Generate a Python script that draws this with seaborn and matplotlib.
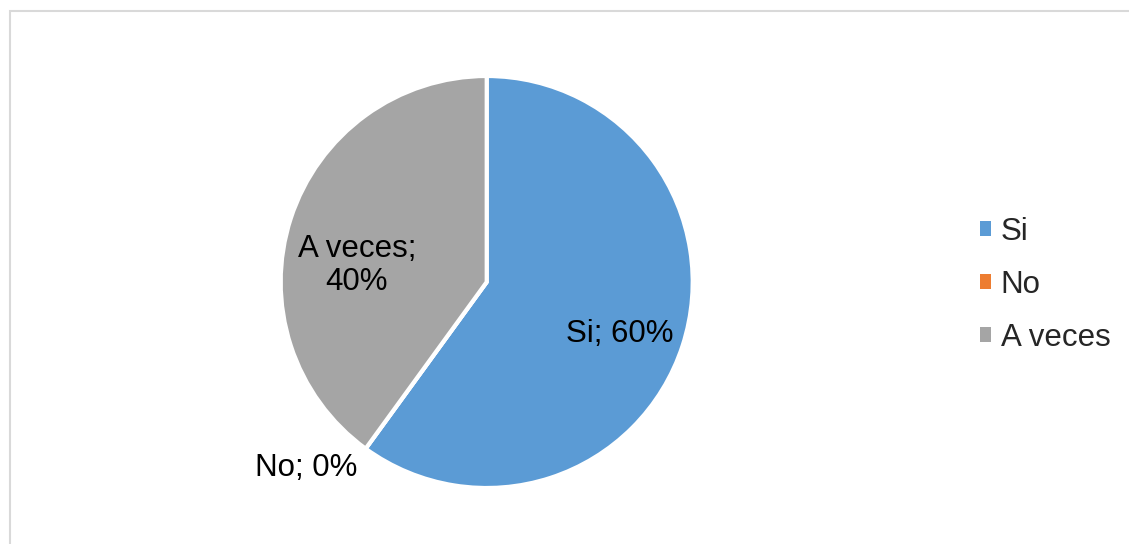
import matplotlib
matplotlib.use("Agg")
import matplotlib.pyplot as plt
import seaborn as sns
from matplotlib.patches import Rectangle, Patch

# Survey answers and their shares (%)
categories = ["Si", "No", "A veces"]
values = [60, 0, 40]
colors = ["#5B9BD5", "#ED7D31", "#A5A5A5"]

# Data-label anchor points in axes data units (pie radius = 1)
label_pos = [(0.645, -0.25), (-0.875, -0.905), (-0.63, 0.08)]
label_text = ["Si; 60%", "No; 0%", "A veces;\n40%"]

sns.set_theme(style="white")
plt.rcParams["font.family"] = ["Liberation Sans", "DejaVu Sans"]

W, H = 1129, 544
FS = 22.5
fig = plt.figure(figsize=(W / 100, H / 100), dpi=100)
fig.patch.set_facecolor("white")

# Chart-area border (top and left edges visible)
fig.add_artist(Rectangle((9.5 / W, -0.2), 1.2, 1 - 11 / H + 0.2,
                         transform=fig.transFigure, fill=False,
                         edgecolor="#d9d9d9", linewidth=1.5))

cx, cy, r = 486.7, H - 282, 206
ax = fig.add_axes([(cx - r) / W, (cy - r) / H, 2 * r / W, 2 * r / H])
wedges, _ = ax.pie(values, colors=colors, startangle=90, counterclock=False,
                   radius=1,
                   wedgeprops=dict(edgecolor="white", linewidth=3))
ax.set_xlim(-1, 1)
ax.set_ylim(-1, 1)
ax.set_aspect("equal")
ax.axis("off")

for (x, y), t in zip(label_pos, label_text):
    ax.text(x, y, t, ha="center", va="center", fontsize=FS, color="black",
            linespacing=1.12, clip_on=False)

handles = [Patch(facecolor=c, edgecolor="none") for c in colors]
leg = fig.legend(handles, categories, loc="center left",
                 bbox_to_anchor=(980 / W, 1 - 285 / H), frameon=False,
                 fontsize=FS, handlelength=0.36, handleheight=0.36,
                 handletextpad=0.3, labelspacing=0.74, borderpad=0,
                 borderaxespad=0)

fig.savefig("out.png", dpi=100, facecolor="white")
